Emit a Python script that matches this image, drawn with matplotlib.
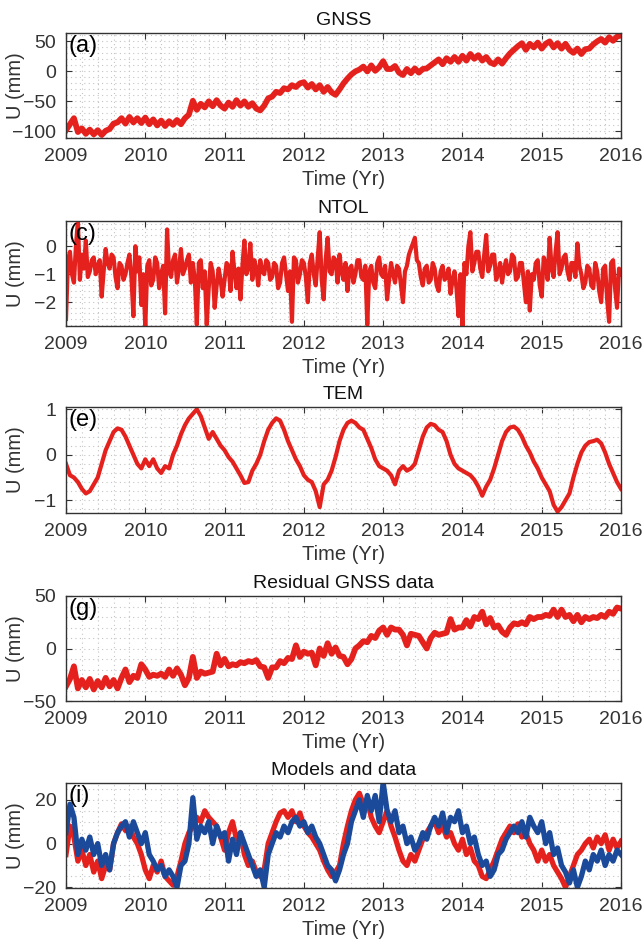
import numpy as np
import matplotlib
matplotlib.use("Agg")
import matplotlib.pyplot as plt
from matplotlib.ticker import MultipleLocator

plt.rcParams['font.family'] = ['Liberation Sans', 'DejaVu Sans']

# ---------------- data -------------
years = [2009, 2010, 2011, 2012, 2013, 2014, 2015, 2016]

# every ~0.05 yr
gnss = [
    -98, -88, -78, -101, -95, -104, -97, -105, -98, -106, -99, -96, -87, -85, -78, -87, -76, -85, -78, -86,   # 2009
    -77, -88, -80, -90, -82, -91, -83, -89, -81, -88, -78, -72, -49, -64, -54, -60, -50, -58, -48, -57,          # 2010
    -62, -52, -59, -48, -57, -50, -59, -53, -62, -65, -57, -45, -42, -34, -36, -28, -30, -23, -26, -20,          # 2011
    -18, -27, -21, -30, -23, -34, -26, -35, -39, -30, -20, -12, -5, 0, 3, 8, 0, 10, 1, 7,                        # 2012
    17, 4, 4, 9, -2, -6, 4, -3, 5, -2, 4, 5, 10, 15, 20, 12, 22, 16, 24, 16,                                      # 2013
    26, 18, 29, 21, 27, 18, 24, 15, 12, 20, 13, 22, 30, 36, 42, 47, 36, 46, 40, 48,                               # 2014
    38, 46, 50, 40, 47, 38, 46, 36, 31, 38, 29, 37, 38, 45, 50, 54, 48, 57, 51, 58,                               # 2015
    60]

# every ~0.025 yr
ntol = [
    -2.6, -0.5, -0.2, -1.0, -1.3, 0.0, 0.9, -1.2, -0.3, -0.8, 0.2, -1.1, -0.9, -0.5, -0.4, -1.0, -0.7, -0.5, -1.8, -0.9,
    -0.1, -0.6, -0.8, -0.3, -0.4, -1.1, -1.5, -0.6, -0.7, -1.2, -1.0, -0.6, -0.3, -1.1, -2.5, 0.0, -0.9, -0.4, -2.1, -1.0,
    -2.9, -0.7, -0.5, -1.4, -1.2, -0.4, -0.6, -1.5, -1.0, -0.7, -2.4, 0.6, -0.9, -1.1, -0.5, -0.3, -1.3, -0.8, -0.1, -1.0,
    -0.8, -0.5, -0.3, -1.3, -0.6, -1.2, -2.8, -0.6, -0.5, -1.5, -0.9, -2.8, -1.5, -0.6, -0.9, -2.2, -1.4, -0.8, -1.2, -1.8,
    -1.2, -0.6, -0.7, -1.6, -0.2, -0.9, -1.5, -0.8, -1.9, -0.7, 0.2, -1.0, -0.8, 0.1, -1.2, -0.5, -0.8, -1.4, -0.5, -0.9,
    -1.0, -0.5, -0.6, -1.2, -1.1, -0.6, -0.7, -1.5, -1.3, -0.6, -0.4, -1.0, -1.6, -0.9, -2.7, -0.4, -0.5, -1.3, -1.0, -0.5,
    -0.6, -1.1, -2.0, -0.6, -0.3, -1.0, -1.4, -0.4, 0.5, -1.2, -1.9, -0.5, 0.3, -0.9, -1.0, -0.4, -0.5, -1.3, -0.3, -0.9,
    -1.2, -0.6, -1.6, -0.8, -0.7, -1.3, -1.0, -0.5, -0.5, -1.1, -1.2, -0.7, -2.8, -0.9, -0.7, -1.3, -1.5, -0.6, -0.4, -1.0,
    -1.1, -0.7, -1.9, -1.2, -0.6, -1.0, -1.3, -0.7, -0.8, -1.4, -2.0, -0.9, -0.7, -0.3, -0.1, 0.1, 0.3, -0.5, -0.6, -1.1,
    -1.4, -0.8, -0.7, -1.3, -1.2, -0.6, -0.8, -1.4, -1.6, -0.9, -0.7, -1.2, -1.1, -0.8, -1.7, -1.2, -0.9, -1.5, -2.5, -1.0,
    -2.9, -0.6, -1.0, 0.0, 0.5, -0.9, -0.6, -0.2, -0.2, -0.8, -1.1, -0.3, 0.4, -0.9, -0.7, -0.3, -0.3, -1.2, -1.0, -0.6,
    -1.3, -0.8, -0.5, -1.0, -0.9, -0.3, -0.4, -1.2, -1.1, -0.6, -0.6, -1.3, -2.0, -0.9, -2.3, -1.0, -1.2, -0.6, -0.5, -1.4,
    -1.8, -0.4, -0.6, -1.2, 0.3, -0.8, -1.1, -0.2, 0.5, -1.0, -0.8, -0.4, -0.3, -0.9, -1.2, -0.6, -0.6, -1.1, 0.1, -0.7,
    -1.0, -1.5, -1.3, -0.7, -0.8, -1.4, -1.5, -0.6, -0.9, -1.6, -2.0, -0.8, -0.7, -1.9, -2.7, -0.6, -0.5, -1.5, -2.2, -0.8,
    -1.0]

tem = [
    -0.2, -0.45, -0.5, -0.6, -0.75, -0.85, -0.8, -0.65, -0.5, -0.2, 0.1, 0.3, 0.5, 0.58, 0.55, 0.4, 0.2, 0.0, -0.2, -0.3,
    -0.1, -0.25, -0.1, -0.3, -0.4, -0.25, -0.3, 0.0, 0.2, 0.45, 0.65, 0.8, 0.9, 1.0, 0.85, 0.6, 0.35, 0.5, 0.35, 0.2,
    0.1, -0.05, -0.15, -0.3, -0.45, -0.62, -0.6, -0.35, -0.2, 0.0, 0.3, 0.55, 0.7, 0.8, 0.75, 0.55, 0.3, 0.1, -0.1, -0.25,
    -0.45, -0.55, -0.6, -0.8, -1.15, -0.65, -0.55, -0.35, -0.05, 0.3, 0.55, 0.7, 0.75, 0.7, 0.6, 0.55, 0.35, 0.15, -0.1, -0.25,
    -0.3, -0.35, -0.45, -0.65, -0.35, -0.25, -0.35, -0.3, -0.2, 0.1, 0.4, 0.6, 0.68, 0.65, 0.55, 0.5, 0.3, 0.0, -0.2, -0.3,
    -0.35, -0.4, -0.45, -0.55, -0.7, -0.9, -0.7, -0.55, -0.3, 0.0, 0.3, 0.5, 0.6, 0.62, 0.55, 0.4, 0.2, 0.05, -0.15, -0.3,
    -0.5, -0.65, -0.8, -1.1, -1.25, -1.15, -1.0, -0.85, -0.5, -0.2, 0.05, 0.2, 0.28, 0.3, 0.33, 0.25, 0.05, -0.2, -0.4, -0.6,
    -0.75]

residual = [
    -36, -29, -17, -38, -30, -37, -29, -39, -31, -37, -28, -36, -30, -38, -28, -20, -32, -26, -28, -15,
    -20, -27, -25, -26, -24, -27, -20, -26, -19, -25, -35, -28, -8, -28, -22, -24, -23, -22, -5, -16,
    -10, -17, -15, -16, -13, -14, -12, -13, -11, -17, -18, -28, -18, -18, -12, -14, -9, -10, 3, -8,
    -3, -5, -4, -16, 0, -7, 5, -5, 1, -7, -8, -15, -10, 0, 3, 7, 6, 12, 10, 17,
    20, 13, 20, 18, 18, 13, 3, 14, 13, 12, 6, 0, 10, 15, 13, 14, 15, 28, 18, 20,
    20, 27, 21, 30, 28, 35, 23, 29, 20, 22, 16, 13, 20, 24, 23, 25, 23, 30, 28, 30,
    30, 32, 31, 37, 30, 37, 30, 32, 26, 32, 25, 30, 28, 30, 29, 32, 30, 35, 33, 39,
    38]

model = [
    -5, 8, 3, -8, -3, -10, -5, -13, -8, -16, -10, -12, 0, 5, 9, 6, 8, 3, 0, -5,
    -12, -16, -10, -13, -8, -15, -17, -19, -15, -8, 0, 5, 8, 12, 10, 15, 12, 10, 8, 3,
    -3, 5, 10, 2, 5, -5, -10, -8, -13, -15, -12, 0, 5, 10, 14, 15, 12, 15, 10, 14,
    8, 5, 3, 0, -3, -8, -12, -15, -13, -10, 0, 8, 15, 20, 23, 18, 20, 12, 8, 5,
    10, 15, 8, 3, -3, -8, -10, -5, -8, -3, 2, 5, 8, 10, 5, 8, 3, 5, 0, -3,
    2, -5, -2, -8, -10, -15, -16, -12, -8, -3, 2, 5, 8, 5, 9, 3, 5, 0, -3, -8,
    -3, -8, -5, -10, -13, -16, -20, -15, -10, -5, -3, 0, 2, -2, 3, 0, 4, -3, 2, -2,
    1]

data = [
    5, 18, 12, -5, 2, -3, 3, -5, 0, -10, -5, -12, 0, 5, 8, 10, 3, 10, 5, 0,
    5, -5, -8, -12, -10, -15, -12, -15, -20, -10, -8, 0, 21, 2, 8, 5, 10, 0, 8, 3,
    5, -8, 2, -5, 5, 0, -5, -10, -15, -12, -20, -5, 0, 5, 3, 8, 5, 10, 12, 8,
    10, 5, 8, 3, 0, -5, -10, -12, -17, -12, -5, 0, 10, 15, 20, 12, 22, 15, 22, 10,
    28, 15, 10, 15, 5, 8, 0, 3, -3, 0, 5, 2, 8, 12, 8, 14, 5, 12, 10, 15,
    5, 8, 0, 3, -5, -10, -8, -15, -12, -5, -3, 2, 5, 8, 5, 10, 3, 12, 8, 5,
    10, 0, 5, -5, -2, -10, -13, -18, -12, -20, -15, -8, -12, -5, -8, -3, -10, -5, -8, -3,
    -5]

titles = ["GNSS", "NTOL", "TEM", "Residual GNSS data", "Models and data"]
letters = ["(a)", "(c)", "(e)", "(g)", "(i)"]
ylims = [(-111, 64), (-2.85, 0.9), (-1.28, 1.05), (-50, 50), (-20.3, 27.7)]
ymajor = [50, 1, 1, 50, 20]
yminor = [10, 0.2, 0.2, 10, 5]

RED = '#E5211D'
BLUE = '#1B4A9B'
AXC = '#333333'

fig = plt.figure(figsize=(6.43, 9.46), dpi=100)
W, H = 643.0, 946.0
boxes = [(33, 138), (221, 326), (407, 513), (596, 701), (783, 888)]
series = [[(gnss, RED, 4.2)], [(ntol, RED, 3.0)], [(tem, RED, 3.0)], [(residual, RED, 4.2)],
          [(model, RED, 3.8), (data, BLUE, 3.8)]]

for k, (top, bot) in enumerate(boxes):
    ax = fig.add_axes([66 / W, 1 - bot / H, 555 / W, (bot - top) / H])
    for vals, col, lw in series[k]:
        t = np.linspace(years[0], years[-1], len(vals))
        ax.plot(t, vals, color=col, lw=lw, solid_joinstyle='round')
    ax.set_xlim(years[0], years[-1])
    ax.set_ylim(*ylims[k])
    ax.set_xticks(years)
    ax.set_xticklabels([str(y) for y in years])
    ax.xaxis.set_minor_locator(MultipleLocator(0.2))
    ax.yaxis.set_major_locator(MultipleLocator(ymajor[k]))
    ax.yaxis.set_minor_locator(MultipleLocator(yminor[k]))
    ax.grid(which='both', linestyle=(0, (1, 3)), color='#c4c4c4', linewidth=0.8)
    ax.set_axisbelow(True)
    ax.tick_params(which='major', direction='in', length=4, width=0.8,
                   top=True, right=True, labelsize=14, colors=AXC, pad=7)
    ax.tick_params(which='minor', length=0)
    for s in ax.spines.values():
        s.set_color(AXC)
        s.set_linewidth(1.0)
    ax.set_title(titles[k], fontsize=14, color='#111111', pad=6)
    ax.set_xlabel("Time (Yr)", fontsize=14.5, color=AXC, labelpad=4)
    ax.set_ylabel("U (mm)", fontsize=14.5, color=AXC)
    ax.yaxis.set_label_coords(-0.074, 0.5)
    ax.text(0.004, 0.985, letters[k], transform=ax.transAxes, ha='left', va='top',
            fontsize=17, color='black', zorder=5)

fig.savefig("out.png", dpi=100)
